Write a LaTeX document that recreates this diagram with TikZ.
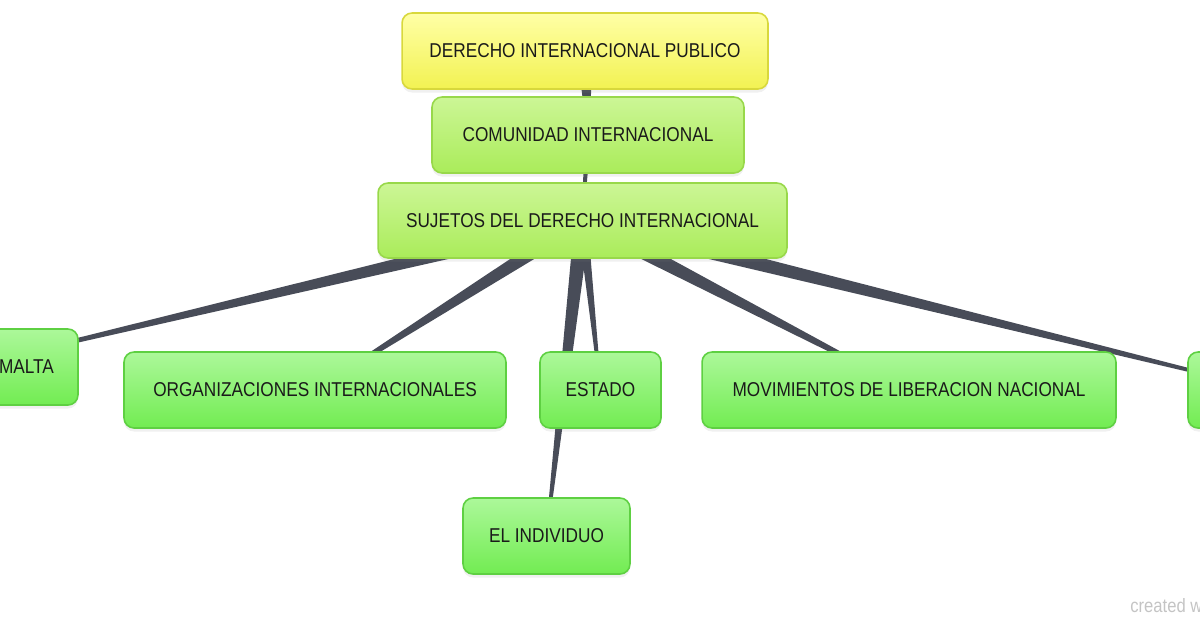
\documentclass[tikz,border=0pt]{standalone}
\usepackage{fontspec}
\setmainfont{Liberation Sans}[FakeStretch=0.86]
\usetikzlibrary{calc,backgrounds,shadows}

\definecolor{lnk}{HTML}{484C58}
\definecolor{txt}{HTML}{1A1A1A}
\definecolor{ylwtop}{HTML}{FFFFA6}
\definecolor{ylwbot}{HTML}{F2F252}
\definecolor{ylwedge}{HTML}{D8D83C}
\definecolor{limtop}{HTML}{CCF696}
\definecolor{limbot}{HTML}{AAEC5A}
\definecolor{limedge}{HTML}{98D84A}
\definecolor{grntop}{HTML}{ACF89A}
\definecolor{grnbot}{HTML}{72EC52}
\definecolor{grnedge}{HTML}{5ED042}
\definecolor{credit}{HTML}{C4C4C4}

\newcommand{\conn}[3]{\fill[lnk] ($(#1)!#3!90:(#2)$) -- ($(#2)!0.6pt!-90:(#1)$)
  -- ($(#2)!0.6pt!90:(#1)$) -- ($(#1)!#3!-90:(#2)$) -- cycle;}

\begin{document}
\begin{tikzpicture}[x=0.02cm,y=-0.02cm,
  concept/.style={draw,rounded corners=0.2cm,line width=0.9pt,text=txt,
    font=\fontsize{11.4}{13}\selectfont,minimum height=1.52cm,inner sep=0pt,
    drop shadow={opacity=0.12,shadow xshift=0pt,shadow yshift=-2pt}},
  root/.style={concept,draw=ylwedge,top color=ylwtop,bottom color=ylwbot},
  upper/.style={concept,draw=limedge,top color=limtop,bottom color=limbot},
  leaf/.style={concept,draw=grnedge,top color=grntop,bottom color=grnbot}]
\clip (0,0) rectangle (1200,630);
\useasboundingbox (0,0) rectangle (1200,630);
\node[root,minimum width=7.32cm] (dip) at (585,51) {DERECHO INTERNACIONAL PUBLICO};
\node[upper,minimum width=6.24cm] (com) at (588,135) {COMUNIDAD INTERNACIONAL};
\node[upper,minimum width=8.18cm,minimum height=1.5cm] (suj) at (582.5,220.5) {SUJETOS DEL DERECHO INTERNACIONAL};
\node[leaf,minimum width=4.52cm,text width=3.56cm,align=right,inner xsep=0.48cm] (mal) at (-35,367) {MALTA};
\node[leaf,minimum width=7.64cm] (org) at (315,390) {ORGANIZACIONES INTERNACIONALES};
\node[leaf,minimum width=2.42cm] (est) at (600.5,390) {ESTADO};
\node[leaf,minimum width=8.28cm] (mov) at (909,390) {MOVIMIENTOS DE LIBERACION NACIONAL};
\node[leaf,minimum width=3.28cm] (otr) at (1270,390) {};
\node[leaf,minimum width=3.34cm] (ind) at (546.5,536) {EL INDIVIDUO};
\node[anchor=base west,text=credit,font=\fontsize{11}{13}\selectfont,inner sep=0pt] (cre) at (1130,612) {created w};
\begin{pgfonlayer}{background}
\conn{dip.center}{com.center}{0.16cm} \conn{com.center}{suj.center}{0.06cm}
\conn{suj.center}{mal.center}{0.16cm} \conn{suj.center}{org.center}{0.16cm}
\conn{suj.center}{ind.center}{0.16cm} \conn{suj.center}{est.center}{0.10cm}
\conn{suj.center}{mov.center}{0.17cm} \conn{suj.center}{otr.center}{0.17cm}
\end{pgfonlayer}
\end{tikzpicture}
\end{document}
